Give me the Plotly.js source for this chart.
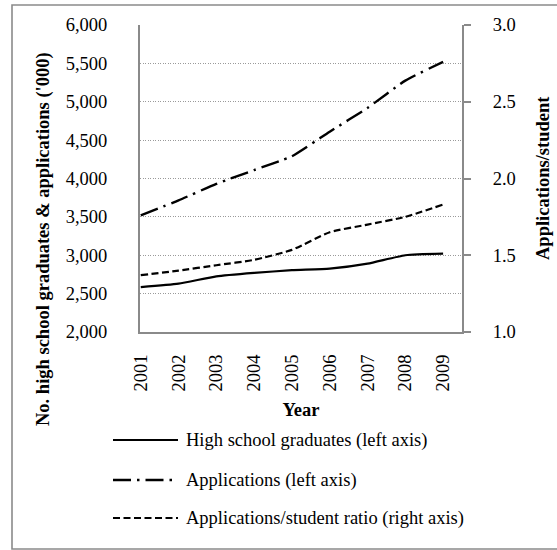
<!DOCTYPE html>
<html>
<head>
<meta charset="utf-8">
<script src="https://cdn.plot.ly/plotly-3.0.1.min.js"></script>
<style>html,body{margin:0;padding:0;background:#fff;}#chart{width:557px;height:550px;}</style>
</head>
<body>
<div id="chart"></div>
<script>
// ---- data ----
const years = ['2001','2002','2003','2004','2005','2006','2007','2008','2009'];
const graduates = [2585, 2630, 2725, 2770, 2805, 2825, 2890, 3000, 3020];
const applications = [3520, 3715, 3930, 4110, 4290, 4610, 4920, 5275, 5520];
const ratio = [1.37, 1.40, 1.435, 1.47, 1.535, 1.65, 1.70, 1.75, 1.83];

const seriesNames = ['High school graduates (left axis)', 'Applications (left axis)', 'Applications/student ratio (right axis)'];
const leftTitle = "No. high school graduates & applications ('000)";
const rightTitle = 'Applications/student';
const xTitle = 'Year';

// ---- layout geometry (pixels) ----
const W = 557, H = 550;
const L = 140, R = 462, T = 25, B = 332;
const pw = R - L, ph = B - T;
const px = x => (x - L) / pw;
const py = y => (B - y) / ph;

const FONT = 'Liberation Serif';
const FS = 18.5;
const dashes = ['solid', '18px,6px,2.5px,6px', '7px,3.5px'];
const widths = [2.2, 2.4, 2.2];

const traces = [
  {x: years, y: graduates, name: seriesNames[0], type: 'scatter', mode: 'lines',
   line: {color: '#000', width: widths[0], dash: dashes[0], shape: 'spline', smoothing: 0.5}, yaxis: 'y'},
  {x: years, y: applications, name: seriesNames[1], type: 'scatter', mode: 'lines',
   line: {color: '#000', width: widths[1], dash: dashes[1], shape: 'spline', smoothing: 0.5}, yaxis: 'y'},
  {x: years, y: ratio, name: seriesNames[2], type: 'scatter', mode: 'lines',
   line: {color: '#000', width: widths[2], dash: dashes[2], shape: 'spline', smoothing: 0.5}, yaxis: 'y2'}
];

// manual legend
const legendRows = [440, 480, 518];
const shapes = [
  {type: 'rect', xref: 'paper', yref: 'paper', x0: px(12), x1: px(575), y0: py(549), y1: py(5),
   line: {color: '#8a8a8a', width: 1.6}, fillcolor: 'rgba(0,0,0,0)', layer: 'below'}
];
const annotations = [
  {xref: 'paper', yref: 'paper', x: px(43), y: py(239), text: leftTitle, textangle: -90, showarrow: false,
   xanchor: 'center', yanchor: 'middle', font: {family: FONT, size: FS, color: '#000', weight: 700}},
  {xref: 'paper', yref: 'paper', x: px(543), y: py(178), text: rightTitle, textangle: -90, showarrow: false,
   xanchor: 'center', yanchor: 'middle', font: {family: FONT, size: FS, color: '#000', weight: 700}}
];
legendRows.forEach((yy, i) => {
  shapes.push({type: 'line', xref: 'paper', yref: 'paper', x0: px(113), x1: px(178), y0: py(yy), y1: py(yy),
    line: {color: '#000', width: widths[i], dash: dashes[i]}});
  annotations.push({xref: 'paper', yref: 'paper', x: px(184), y: py(yy), text: seriesNames[i], showarrow: false,
    xanchor: 'left', yanchor: 'middle', font: {family: FONT, size: FS, color: '#000'}});
});

const layout = {
  width: W, height: H,
  margin: {l: L, r: W - R, t: T, b: H - B, pad: 0},
  paper_bgcolor: '#fff', plot_bgcolor: '#fff',
  showlegend: false,
  font: {family: FONT, size: FS, color: '#000'},
  xaxis: {
    type: 'category', range: [-0.02, 8.5], showgrid: false, zeroline: false,
    showline: true, linecolor: '#8a8a8a', linewidth: 2,
    ticks: '', tickangle: -90, ticklabelstandoff: 13,
    tickfont: {family: FONT, size: FS},
    title: {text: xTitle, font: {family: FONT, size: FS, weight: 700}, standoff: 13}
  },
  yaxis: {
    range: [2000, 6000], dtick: 500, tickformat: ',', showgrid: true,
    gridcolor: '#9a9a9a', gridwidth: 1, griddash: '1px,1.5px', zeroline: false,
    showline: true, linecolor: '#8a8a8a', linewidth: 2, ticks: '', ticklabelstandoff: 27,
    tickfont: {family: FONT, size: FS}
  },
  yaxis2: {
    overlaying: 'y', side: 'right', range: [1, 3], dtick: 0.5, tickformat: '.1f',
    showgrid: false, zeroline: false, showline: true, linecolor: '#8a8a8a', linewidth: 2,
    ticks: 'outside', ticklen: 7, tickwidth: 2, tickcolor: '#8a8a8a', ticklabelstandoff: 18,
    tickfont: {family: FONT, size: FS}
  },
  shapes: shapes,
  annotations: annotations
};

Plotly.newPlot('chart', traces, layout, {displayModeBar: false, staticPlot: true});
</script>
</body>
</html>
